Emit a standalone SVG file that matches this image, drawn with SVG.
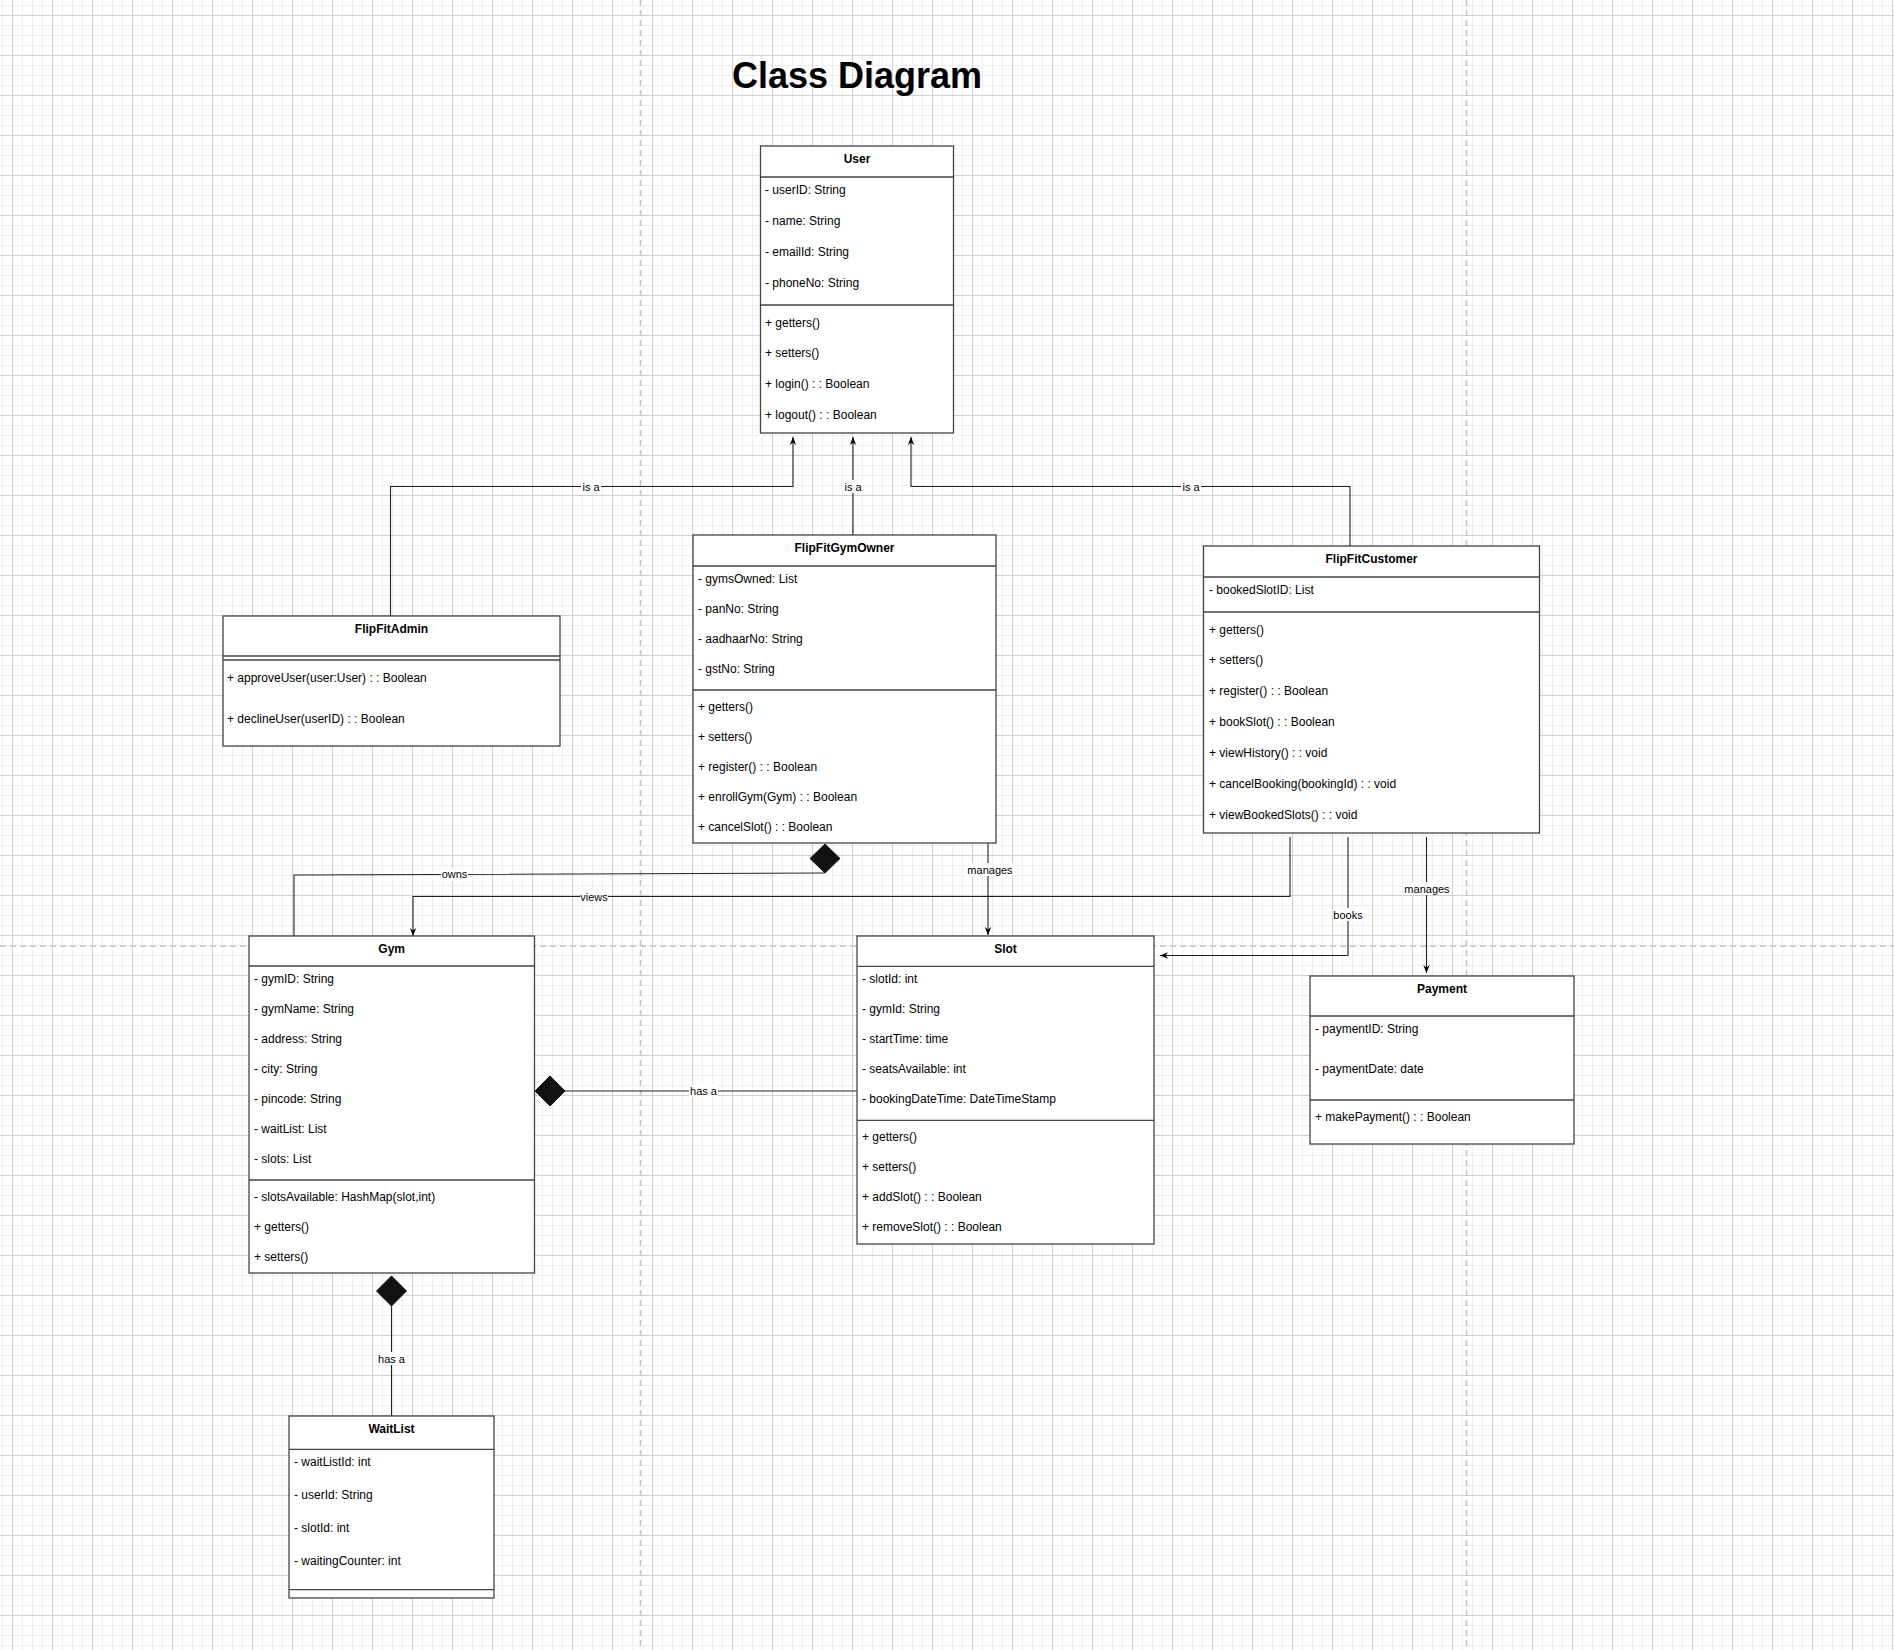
<svg xmlns="http://www.w3.org/2000/svg" width="1894" height="1650" viewBox="0 0 1894 1650">
<defs>
<pattern id="grid" x="12" y="15" width="40" height="40" patternUnits="userSpaceOnUse">
<path d="M10.5 0V40M20.5 0V40M30.5 0V40M0 10.5H40M0 20.5H40M0 30.5H40" stroke="#efefef" stroke-width="1" fill="none"/>
<path d="M0.5 0V40M0 0.5H40" stroke="#d0d0d0" stroke-width="1" fill="none"/>
</pattern>
<marker id="arr" viewBox="0 0 10 10" refX="10" refY="5" markerWidth="8" markerHeight="8" markerUnits="userSpaceOnUse" orient="auto">
<path d="M0,1 L10,5 L0,9 L3,5 Z" fill="#000"/>
</marker>
<style>
text{font-family:"Liberation Sans",Arial,Helvetica,sans-serif;fill:#000}
.t{font-size:12px;font-weight:bold;text-anchor:middle}
.a{font-size:12px}
.lbl{font-size:11px;text-anchor:middle}
.box{fill:#fff;stroke:#444;stroke-width:1.3}
.sep{stroke:#444;stroke-width:1.3;fill:none}
.con{stroke:#222;stroke-width:1.1;fill:none}
.arr{marker-end:url(#arr)}
.lb{fill:#fff}
.dia{fill:#111;stroke:#111;stroke-width:1}
.pb{stroke:#c2c2c2;stroke-width:1.5;stroke-dasharray:6 4;fill:none}
</style>
</defs>
<rect width="1894" height="1650" fill="#fff"/>
<rect width="1894" height="1650" fill="url(#grid)"/>
<g id="page-breaks">
<path class="pb" d="M640.5 0V1650M1466.5 0V1650M0 946H1894"/>
</g>
<text x="732" y="88" style="font-size:36px;font-weight:bold">Class Diagram</text>

<g id="connectors">
<path class="con arr" d="M390.5 616V486.5H793V437"/>
<path class="con arr" d="M853 535V437"/>
<path class="con arr" d="M1350 546V486.5H911V437"/>
<polygon class="dia" points="825,844 840,858.5 825,873 810,858.5"/>
<path class="con" d="M825 873L294 875V936"/>
<path class="con arr" d="M1290 837V896.5H413V936"/>
<path class="con arr" d="M988 843V935"/>
<path class="con arr" d="M1348 837V955.5H1160"/>
<path class="con arr" d="M1426.5 837V973"/>
<polygon class="dia" points="535,1091 550,1076 565,1091 550,1106"/>
<path class="con" d="M565 1091H857"/>
<polygon class="dia" points="391.5,1276 406.5,1291 391.5,1306 376.5,1291"/>
<path class="con" d="M391.5 1306V1416"/>
<rect class="lb" x="581" y="480" width="20" height="13"/><text class="lbl" x="591" y="490.5">is a</text>
<rect class="lb" x="843" y="480" width="20" height="13"/><text class="lbl" x="853" y="490.5">is a</text>
<rect class="lb" x="1181" y="480" width="20" height="13"/><text class="lbl" x="1191" y="490.5">is a</text>
<rect class="lb" x="441" y="868" width="27" height="13"/><text class="lbl" x="454.5" y="878">owns</text>
<rect class="lb" x="580" y="890" width="28" height="13"/><text class="lbl" x="594" y="900.5">views</text>
<rect class="lb" x="966" y="863" width="48" height="13"/><text class="lbl" x="990" y="873.5">manages</text>
<rect class="lb" x="1333" y="908" width="30" height="13"/><text class="lbl" x="1348" y="918.5">books</text>
<rect class="lb" x="1403" y="882" width="48" height="13"/><text class="lbl" x="1427" y="892.5">manages</text>
<rect class="lb" x="689" y="1084" width="29" height="13"/><text class="lbl" x="703.5" y="1095">has a</text>
<rect class="lb" x="377" y="1352" width="29" height="13"/><text class="lbl" x="391.5" y="1363">has a</text>
</g>

<g id="User">
<rect class="box" x="760.5" y="146" width="193" height="287"/>
<path class="sep" d="M760.5 177H953.5M760.5 305H953.5"/>
<text class="t" x="857" y="163">User</text>
<text class="a" x="765" y="194">- userID: String</text>
<text class="a" x="765" y="224.7">- name: String</text>
<text class="a" x="765" y="255.7">- emailId: String</text>
<text class="a" x="765" y="286.7">- phoneNo: String</text>
<text class="a" x="765" y="326.7">+ getters()</text>
<text class="a" x="765" y="356.7">+ setters()</text>
<text class="a" x="765" y="388">+ login() : : Boolean</text>
<text class="a" x="765" y="419">+ logout() : : Boolean</text>
</g>

<g id="FlipFitAdmin">
<rect class="box" x="223" y="616" width="337" height="130"/>
<path class="sep" d="M223 656H560M223 660H560"/>
<text class="t" x="391.5" y="633">FlipFitAdmin</text>
<text class="a" x="227" y="682">+ approveUser(user:User) : : Boolean</text>
<text class="a" x="227" y="723">+ declineUser(userID) : : Boolean</text>
</g>

<g id="FlipFitGymOwner">
<rect class="box" x="693" y="535" width="303" height="308"/>
<path class="sep" d="M693 566H996M693 690H996"/>
<text class="t" x="844.5" y="551.7">FlipFitGymOwner</text>
<text class="a" x="698" y="583">- gymsOwned: List</text>
<text class="a" x="698" y="613">- panNo: String</text>
<text class="a" x="698" y="643">- aadhaarNo: String</text>
<text class="a" x="698" y="672.7">- gstNo: String</text>
<text class="a" x="698" y="711.3">+ getters()</text>
<text class="a" x="698" y="741.3">+ setters()</text>
<text class="a" x="698" y="771">+ register() : : Boolean</text>
<text class="a" x="698" y="800.7">+ enrollGym(Gym) : : Boolean</text>
<text class="a" x="698" y="830.7">+ cancelSlot() : : Boolean</text>
</g>

<g id="FlipFitCustomer">
<rect class="box" x="1203.5" y="546" width="336" height="287"/>
<path class="sep" d="M1203.5 577H1539.5M1203.5 612H1539.5"/>
<text class="t" x="1371.5" y="563">FlipFitCustomer</text>
<text class="a" x="1209" y="594">- bookedSlotID: List</text>
<text class="a" x="1209" y="634">+ getters()</text>
<text class="a" x="1209" y="664">+ setters()</text>
<text class="a" x="1209" y="695">+ register() : : Boolean</text>
<text class="a" x="1209" y="726">+ bookSlot() : : Boolean</text>
<text class="a" x="1209" y="756.7">+ viewHistory() : : void</text>
<text class="a" x="1209" y="788">+ cancelBooking(bookingId) : : void</text>
<text class="a" x="1209" y="819">+ viewBookedSlots() : : void</text>
</g>

<g id="Gym">
<rect class="box" x="249" y="936" width="285.5" height="337"/>
<path class="sep" d="M249 966H534.5M249 1180H534.5"/>
<text class="t" x="391.7" y="953">Gym</text>
<text class="a" x="254" y="983">- gymID: String</text>
<text class="a" x="254" y="1013">- gymName: String</text>
<text class="a" x="254" y="1043">- address: String</text>
<text class="a" x="254" y="1073">- city: String</text>
<text class="a" x="254" y="1103">- pincode: String</text>
<text class="a" x="254" y="1132.7">- waitList: List</text>
<text class="a" x="254" y="1162.7">- slots: List</text>
<text class="a" x="254" y="1201">- slotsAvailable: HashMap(slot,int)</text>
<text class="a" x="254" y="1231">+ getters()</text>
<text class="a" x="254" y="1261">+ setters()</text>
</g>

<g id="Slot">
<rect class="box" x="857" y="936" width="297" height="308"/>
<path class="sep" d="M857 966.3H1154M857 1120.3H1154"/>
<text class="t" x="1005.5" y="953">Slot</text>
<text class="a" x="862" y="983">- slotId: int</text>
<text class="a" x="862" y="1013">- gymId: String</text>
<text class="a" x="862" y="1043">- startTime: time</text>
<text class="a" x="862" y="1072.7">- seatsAvailable: int</text>
<text class="a" x="862" y="1103.3">- bookingDateTime: DateTimeStamp</text>
<text class="a" x="862" y="1141.3">+ getters()</text>
<text class="a" x="862" y="1171.3">+ setters()</text>
<text class="a" x="862" y="1201">+ addSlot() : : Boolean</text>
<text class="a" x="862" y="1230.7">+ removeSlot() : : Boolean</text>
</g>

<g id="Payment">
<rect class="box" x="1310" y="976" width="264" height="168"/>
<path class="sep" d="M1310 1016H1574M1310 1100H1574"/>
<text class="t" x="1442" y="993">Payment</text>
<text class="a" x="1315" y="1033.3">- paymentID: String</text>
<text class="a" x="1315" y="1073">- paymentDate: date</text>
<text class="a" x="1315" y="1120.7">+ makePayment() : : Boolean</text>
</g>

<g id="WaitList">
<rect class="box" x="289" y="1416" width="205" height="182"/>
<path class="sep" d="M289 1449.3H494M289 1589.7H494"/>
<text class="t" x="391.5" y="1433">WaitList</text>
<text class="a" x="294" y="1465.7">- waitListId: int</text>
<text class="a" x="294" y="1499">- userId: String</text>
<text class="a" x="294" y="1531.7">- slotId: int</text>
<text class="a" x="294" y="1565">- waitingCounter: int</text>
</g>
</svg>
